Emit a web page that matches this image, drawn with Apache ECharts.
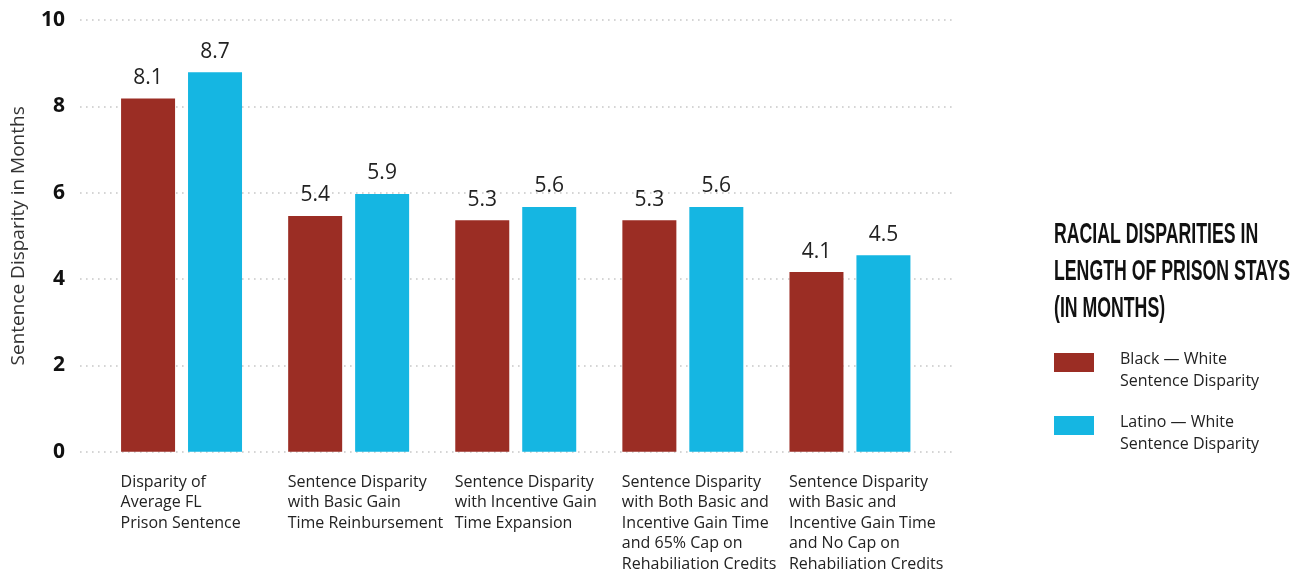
<!DOCTYPE html>
<html>
<head>
<meta charset="utf-8">
<script src="https://cdn.jsdelivr.net/npm/echarts@6/dist/echarts.min.js"></script>
<style>html,body{margin:0;padding:0;background:#fff}#c{width:1304px;height:571px}</style>
</head>
<body>
<div id="c"></div>
<script>
var categories = [
  'Disparity of\nAverage FL\nPrison Sentence',
  'Sentence Disparity\nwith Basic Gain\nTime Reinbursement',
  'Sentence Disparity\nwith Incentive Gain\nTime Expansion',
  'Sentence Disparity\nwith Both Basic and\nIncentive Gain Time\nand 65% Cap on\nRehabiliation Credits',
  'Sentence Disparity\nwith Basic and\nIncentive Gain Time\nand No Cap on\nRehabiliation Credits'
];
var seriesNames = ['Black \u2014 White\nSentence Disparity', 'Latino \u2014 White\nSentence Disparity'];
var blackWhite = [8.18, 5.46, 5.36, 5.36, 4.16];
var latinoWhite = [8.79, 5.97, 5.67, 5.67, 4.55];
var yTicks = [0, 2, 4, 6, 8, 10];
var legendTitle = 'RACIAL DISPARITIES IN\nLENGTH OF PRISON STAYS\n(IN MONTHS)';

var RED = '#9B2D24', BLUE = '#15B6E2';
var chart = echarts.init(document.getElementById('c'));
function trunc(p){ return (Math.floor(p.value * 10 + 1e-6) / 10).toFixed(1); }
var labelCfg = {show: true, position: 'top', distance: 10, formatter: trunc,
  fontFamily: 'Open Sans', fontSize: 21, color: '#222'};
chart.setOption({
  animation: false,
  grid: [
    {left: 80, right: 349, top: 20, bottom: 119.3, containLabel: false, outerBoundsMode: 'none'},
    {left: 98, right: 370.5, top: 20, bottom: 119.3, containLabel: false, outerBoundsMode: 'none'}
  ],
  xAxis: [
    {type: 'value', gridIndex: 0, min: 0, max: 1, show: false},
    {type: 'category', gridIndex: 1, data: categories,
     axisLine: {show: false}, axisTick: {show: false},
     axisLabel: {interval: 0, align: 'left', verticalAlign: 'top', margin: 20,
       padding: [0, 0, 0, -61], fontFamily: 'Open Sans', fontSize: 16, lineHeight: 20.6, color: '#222'}}
  ],
  yAxis: [
    {type: 'value', gridIndex: 0, min: yTicks[0], max: yTicks[yTicks.length - 1], interval: 2,
     name: 'Sentence Disparity in Months', nameLocation: 'middle', nameGap: 52,
     nameTextStyle: {fontFamily: 'Open Sans', fontSize: 19, color: '#333'},
     axisLine: {show: false}, axisTick: {show: false},
     axisLabel: {margin: 15, fontFamily: 'Open Sans', fontWeight: 'bold', fontSize: 21, color: '#111'},
     splitLine: {show: true, lineStyle: {color: '#c8c8c8', width: 1.6, type: [1.6, 4.4]}}},
    {type: 'value', gridIndex: 1, min: 0, max: 10, interval: 2, show: false, splitLine: {show: false}}
  ],
  legend: {
    orient: 'vertical', left: 1054, top: 333, padding: 0, itemWidth: 40, itemHeight: 19, itemGap: 4,
    icon: 'rect',
    formatter: function (n) { return '{s| }\n' + n; },
    textStyle: {fontFamily: 'Open Sans', fontSize: 16, lineHeight: 22, color: '#222', padding: [0, 0, 0, 21],
      rich: {s: {fontSize: 8, lineHeight: 15}}},
    data: seriesNames
  },
  graphic: [{
    type: 'text', left: 1054, top: 216, scaleX: 0.59,
    style: {text: legendTitle, fontFamily: 'Liberation Sans', fontWeight: 'bold', fontSize: 30,
      lineHeight: 37, fill: '#111'}
  }],
  series: [
    {name: seriesNames[0], type: 'bar', xAxisIndex: 1, yAxisIndex: 1, data: blackWhite,
     barWidth: 54, barGap: '24%', itemStyle: {color: RED}, label: labelCfg},
    {name: seriesNames[1], type: 'bar', xAxisIndex: 1, yAxisIndex: 1, data: latinoWhite,
     barWidth: 54, barGap: '24%', itemStyle: {color: BLUE}, label: labelCfg}
  ]
});
</script>
</body>
</html>
